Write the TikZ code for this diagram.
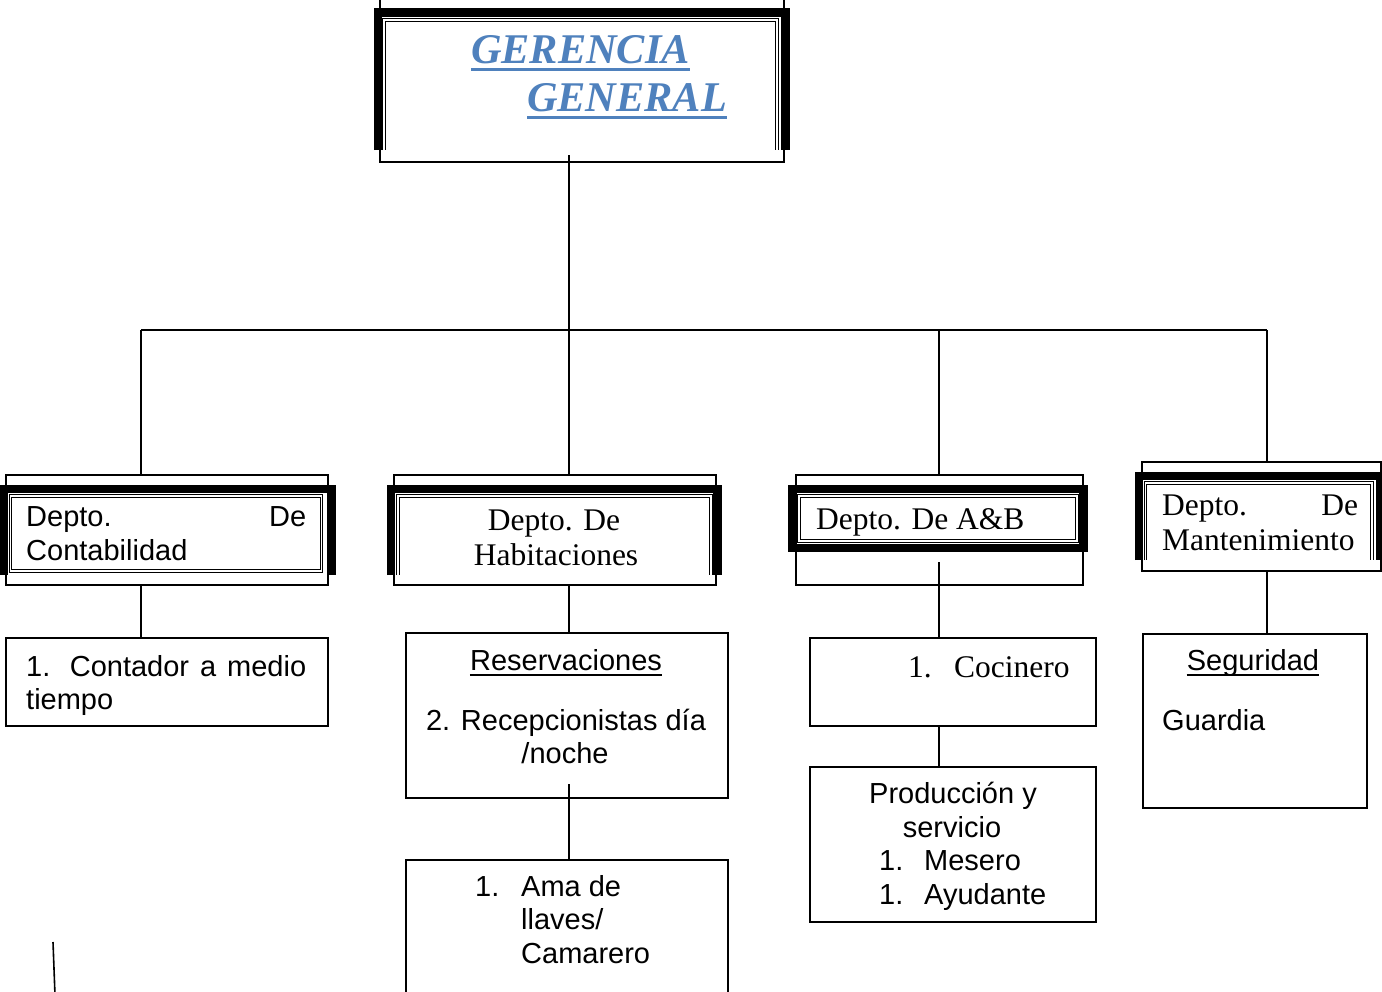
\documentclass[tikz,border=0pt]{standalone}
\usepackage{fontspec}
\setmainfont{Liberation Serif}
\newfontfamily\arialf{Liberation Sans}
\definecolor{titleblue}{HTML}{4F81BD}
\begin{document}
\begin{tikzpicture}[x=1pt,y=-1pt,
  box/.style={draw, line width=1.5pt, inner sep=0pt, anchor=north west},
  heavy/.style={line width=8.5pt, line cap=butt, line join=miter},
  dbl/.style={draw, line width=0.8pt, double, double distance=1.6pt},
  conn/.style={line width=1.6pt},
  sans/.style={font=\arialf\fontsize{29}{34}\selectfont, inner sep=0pt, anchor=base west},
  serif/.style={font=\fontsize{31.5}{37}\selectfont, inner sep=0pt, anchor=base west},
  ttl/.style={font=\bfseries\itshape\fontsize{42.3}{48}\selectfont, text=titleblue, inner sep=0pt, anchor=base west},
  uline/.style={line width=2pt},
]
\useasboundingbox (0,0) rectangle (1382,991);
\clip (0,0) rectangle (1382,991);
\fill[white] (0,0) rectangle (1382,991);

% ---------- top box ----------
\node[box, minimum width=404pt, minimum height=181pt] (gg) at (379,-20) {};
\draw[heavy] (378,150) -- (378,12.5) -- (785.5,12.5) -- (785.5,150);
\draw[dbl] (384,150) -- (384,20) -- (777,20) -- (777,150);
\node[ttl] (g1) at (471,63) {GERENCIA};
\node[ttl] (g2) at (527,111) {GENERAL};
\draw[titleblue, line width=3pt] ([yshift=-6pt]g1.base west) -- ([yshift=-6pt]g1.base east);
\draw[titleblue, line width=3pt] ([yshift=-6.5pt]g2.base west) -- ([yshift=-6.5pt]g2.base east);

% ---------- bus ----------
\coordinate (gtop) at (569,155);
\coordinate (b1) at (141,330);
\coordinate (b2) at (569,330);
\coordinate (b3) at (939,330);
\coordinate (b4) at (1267,330);
\draw[conn] (gtop) -- (b2);
\draw[conn] (b1) -- (b4);

% ---------- department boxes ----------
\node[box, minimum width=322pt, minimum height=110pt] (d1) at (5,474) {};
\node[box, minimum width=322pt, minimum height=110pt] (d2) at (393,474) {};
\node[box, minimum width=287pt, minimum height=110pt] (d3) at (795,474) {};
\node[box, minimum width=239pt, minimum height=109pt] (d4) at (1141,461) {};

\draw[conn] (b1) -- (b1 |- d1.north);
\draw[conn] (b2) -- (b2 |- d2.north);
\draw[conn] (b3) -- (b3 |- d3.north);
\draw[conn] (b4) -- (b4 |- d4.north);

\draw[heavy] (3.5,575) -- (3.5,489) -- (331.5,489) -- (331.5,575);
\draw[dbl] (10.5,496) rectangle (321.5,571);
\draw[heavy] (391,575) -- (391,489) -- (717.5,489) -- (717.5,575);
\draw[dbl] (398,575) -- (398,496) -- (711,496) -- (711,575);
\draw[heavy] (792,489) rectangle (1083.5,548);
\draw[dbl] (799,496) rectangle (1077,541);
\draw[heavy] (1139,560) -- (1139,476) -- (1380,476) -- (1380,560);
\draw[dbl] (1145.5,560) -- (1145.5,483) -- (1372,483) -- (1372,560);

\node[sans] (d1a) at (26,526) {\makebox[280pt][s]{Depto. De}};
\node[sans] (d1b) at (26,560) {Contabilidad};
\node[serif, anchor=base] (d2a) at (554,530) {Depto. De};
\node[serif, anchor=base] (d2b) at (556,565) {Habitaciones};
\node[serif] (d3a) at (816,529) {Depto. De A\&B};
\node[serif] (d4a) at (1162,515) {\makebox[196pt][s]{Depto. De}};
\node[serif] (d4b) at (1162,550) {Mantenimiento};

% ---------- lower boxes ----------
\node[box, minimum width=322pt, minimum height=88pt] (l1) at (5,637) {};
\node[box, minimum width=322pt, minimum height=165pt] (l2) at (405,632) {};
\node[box, minimum width=322pt, minimum height=160pt] (l3) at (405,859) {};
\node[box, minimum width=286pt, minimum height=88pt] (c1) at (809,637) {};
\node[box, minimum width=286pt, minimum height=155pt] (c2) at (809,766) {};
\node[box, minimum width=224pt, minimum height=174pt] (r1) at (1142,633) {};

\coordinate (d3s) at (939,562);
\coordinate (l2s) at (569,784);
\draw[conn] (d1.south -| b1) -- (l1.north -| b1);
\draw[conn] (d2.south -| b2) -- (l2.north -| b2);
\draw[conn] (l2s) -- (l3.north -| b2);
\draw[conn] (d3s) -- (c1.north -| b3);
\draw[conn] (c1.south -| b3) -- (c2.north -| b3);
\draw[conn] (d4.south -| b4) -- (r1.north -| b4);

\node[sans] (l1a) at (26,676) {\makebox[280pt][s]{1. Contador a medio}};
\node[sans] (l1b) at (26,709) {tiempo};

\node[sans, anchor=base] (l2a) at (566,670) {Reservaciones};
\draw[uline] ([yshift=-5pt]l2a.base west) -- ([yshift=-5pt]l2a.base east);
\node[sans, anchor=base] (l2b) at (566,730) {2. Recepcionistas día};
\node[sans, anchor=base] (l2c) at (565,763) {/noche};

\node[sans] (l3n) at (475,896) {1.};
\node[sans] (l3a) at (521,896) {Ama de};
\node[sans] (l3b) at (521,929) {llaves/};
\node[sans] (l3c) at (521,963) {Camarero};

\node[serif] (c1n) at (908,677) {1.};
\node[serif] (c1a) at (954,677) {Cocinero};

\node[sans, anchor=base] (c2a) at (953,803) {Producción y};
\node[sans, anchor=base] (c2b) at (952,837) {servicio};
\node[sans] (c2n1) at (879,870) {1.};
\node[sans] (c2m) at (924,870) {Mesero};
\node[sans] (c2n2) at (879,904) {1.};
\node[sans] (c2y) at (924,904) {Ayudante};

\node[sans, anchor=base] (r1a) at (1253,670) {Seguridad};
\draw[uline] ([yshift=-5pt]r1a.base west) -- ([yshift=-5pt]r1a.base east);
\node[sans] (r1b) at (1162,730) {Guardia};

% stray stroke
\draw[conn] (53,942) -- (55,995);
\end{tikzpicture}
\end{document}
